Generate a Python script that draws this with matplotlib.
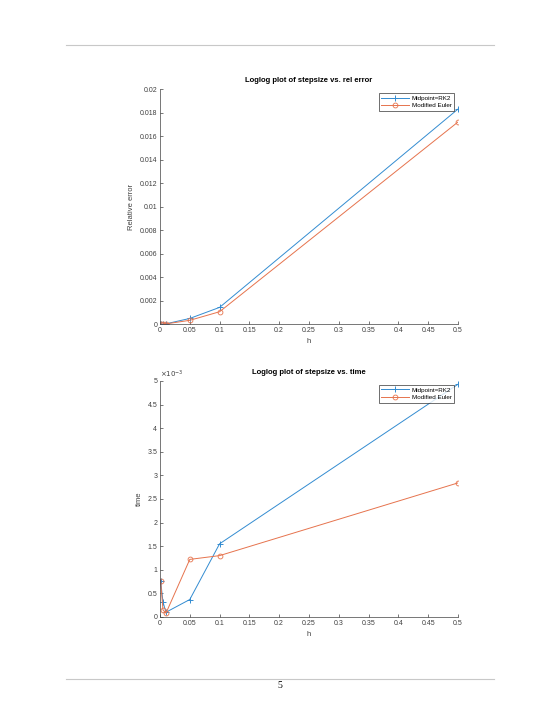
import matplotlib
matplotlib.use("Agg")
import matplotlib.pyplot as plt

# step sizes and results
h = [0.001, 0.005, 0.01, 0.05, 0.1, 0.5]
err_mid = [2e-7, 5e-6, 2.2e-5, 0.00048, 0.00142, 0.0183]
err_euler = [1.5e-7, 3.5e-6, 1.5e-5, 0.00032, 0.00105, 0.0172]
time_mid = [0.77e-3, 0.32e-3, 0.10e-3, 0.37e-3, 1.55e-3, 4.93e-3]
time_euler = [0.77e-3, 0.15e-3, 0.08e-3, 1.22e-3, 1.30e-3, 2.84e-3]

x_ticks = [0, 0.05, 0.1, 0.15, 0.2, 0.25, 0.3, 0.35, 0.4, 0.45, 0.5]
x_labels = ["0", "0.05", "0.1", "0.15", "0.2", "0.25", "0.3", "0.35", "0.4", "0.45", "0.5"]
err_ticks = [0, 0.002, 0.004, 0.006, 0.008, 0.01, 0.012, 0.014, 0.016, 0.018, 0.02]
err_labels = ["0", "0.002", "0.004", "0.006", "0.008", "0.01", "0.012", "0.014", "0.016", "0.018", "0.02"]
time_ticks = [0, 0.5e-3, 1e-3, 1.5e-3, 2e-3, 2.5e-3, 3e-3, 3.5e-3, 4e-3, 4.5e-3, 5e-3]
time_labels = ["0", "0.5", "1", "1.5", "2", "2.5", "3", "3.5", "4", "4.5", "5"]

BLUE = (0.2, 0.55, 0.82)
ORANGE = (0.9, 0.45, 0.3)
GREY = (0.25, 0.25, 0.25)

plt.rcParams["font.family"] = ["Liberation Sans", "DejaVu Sans"]

fig = plt.figure(figsize=(5.6, 7.25), dpi=100)


def style_axes(ax, title, ylabel, yticks, ylabels, ylim):
    ax.set_xlim(0, 0.5)
    ax.set_ylim(*ylim)
    ax.set_xticks(x_ticks)
    ax.set_xticklabels(x_labels)
    ax.set_yticks(yticks)
    ax.set_yticklabels(ylabels)
    ax.tick_params(direction="in", length=2.5, width=0.5, labelsize=5, colors=GREY, pad=2)
    for side in ("top", "right"):
        ax.spines[side].set_visible(False)
    for side in ("left", "bottom"):
        ax.spines[side].set_linewidth(0.5)
        ax.spines[side].set_color(GREY)
    ax.set_title(title, fontsize=5.5, fontweight="bold", pad=5)
    ax.set_xlabel("h", fontsize=5.5, color=GREY, labelpad=3)
    ax.set_ylabel(ylabel, fontsize=5.5, color=GREY, labelpad=3)
    leg = ax.legend(loc="upper right", fontsize=4.5, frameon=True, fancybox=False,
                    borderpad=0.4, handlelength=4.5, labelspacing=0.35,
                    borderaxespad=0.6, handletextpad=0.4)
    leg.get_frame().set_edgecolor("black")
    leg.get_frame().set_linewidth(0.5)


# relative error
ax1 = fig.add_axes([0.2857, 0.553, 0.532, 0.324])
ax1.plot(h, err_mid, color=BLUE, marker="+", ms=4, mew=0.7, lw=0.7, label="Midpoint=RK2")
ax1.plot(h, err_euler, color=ORANGE, marker="o", ms=3.5, mfc="none", mew=0.6, lw=0.7,
         label="Modified Euler")
style_axes(ax1, "Loglog plot of stepsize vs. rel error", "Relative error",
           err_ticks, err_labels, (0, 0.02))

# time
ax2 = fig.add_axes([0.2857, 0.149, 0.532, 0.3255])
ax2.plot(h, time_mid, color=BLUE, marker="+", ms=4, mew=0.7, lw=0.7, label="Midpoint=RK2")
ax2.plot(h, time_euler, color=ORANGE, marker="o", ms=3.5, mfc="none", mew=0.6, lw=0.7,
         label="Modified Euler")
style_axes(ax2, "Loglog plot of stepsize vs. time", "time",
           time_ticks, time_labels, (0, 5e-3))
ax2.text(0.0, 1.005, r"$\times10^{-3}$", transform=ax2.transAxes, fontsize=5,
         color=GREY, ha="left", va="bottom")

# page decoration
fig.add_artist(plt.Line2D([66 / 560, 494 / 560], [1 - 45 / 725] * 2, color="#c8c8c8", lw=0.8))
fig.add_artist(plt.Line2D([66 / 560, 494 / 560], [1 - 679 / 725] * 2, color="#c8c8c8", lw=0.8))
fig.text(280 / 560, 1 - 686 / 725, "5", fontsize=7, family="Liberation Serif",
         ha="center", va="center")

fig.savefig("out.png", dpi=100)
